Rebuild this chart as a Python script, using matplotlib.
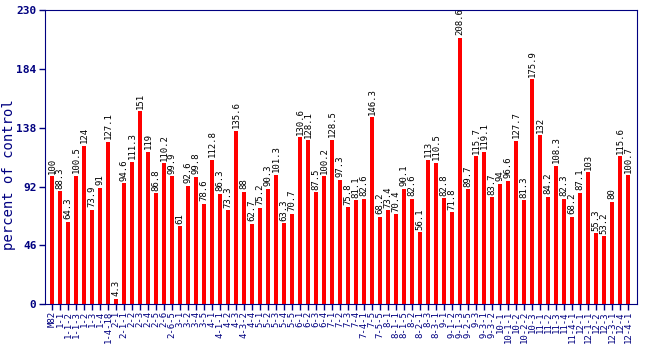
import matplotlib
matplotlib.use("Agg")
import matplotlib.pyplot as plt

lines = ["M82", "1-1", "1-1-2", "1-1-3", "1-2", "1-3", "1-4", "1-4-18",
         "2-1", "2-1-1", "2-2", "2-3", "2-4", "2-5", "2-6", "2-6-5",
         "3-1", "3-2", "3-4", "3-5",
         "4-1", "4-1-1", "4-2", "4-3", "4-3-2", "4-4",
         "5-1", "5-2", "5-3", "5-4", "5-5",
         "6-1", "6-2", "6-3", "6-4",
         "7-1", "7-2", "7-3", "7-4", "7-4-1", "7-5", "7-5-5",
         "8-1", "8-1-1", "8-1-5", "8-2", "8-2-1", "8-3", "8-3-1",
         "9-1", "9-1-2", "9-1-3", "9-2-5", "9-3", "9-3-1", "9-3-2",
         "10-1", "10-1-1", "10-2", "10-2-2", "10-3",
         "11-1", "11-2", "11-3", "11-4", "11-4-1",
         "12-1", "12-1-1", "12-2", "12-3", "12-3-1", "12-4", "12-4-1"]

values = [100, 88.3, 64.3, 100.5, 124, 73.9, 91, 127.1, 4.3, 94.6,
          111.3, 151, 119, 86.8, 110.2, 99.9, 61, 92.6, 99.8, 78.6,
          112.8, 86.3, 73.3, 135.6, 88, 62.7, 75.2, 90.3, 101.3, 63.3,
          70.7, 130.6, 128.1, 87.5, 100.2, 128.5, 97.3, 75.8, 81.1, 82.6,
          146.3, 68.2, 73.4, 70.4, 90.1, 82.6, 56.1, 113, 110.5, 82.8,
          71.8, 208.6, 89.7, 115.7, 119.1, 83.7, 94, 96.6, 127.7, 81.3,
          175.9, 132, 84.2, 108.3, 82.3, 68.2, 87.1, 103, 55.3, 53.2,
          80, 115.6, 100.7]

yticks = [0, 46, 92, 138, 184, 230]

navy = "#000080"
mono = "DejaVu Sans Mono"

fig = plt.figure(figsize=(6.5, 3.5), dpi=100)
ax = fig.add_axes([0.069, 0.131, 0.911, 0.840])

x = list(range(len(values)))
ax.bar(x, values, width=0.5, color="#ff0000")

# value labels above each bar
for xi, v in zip(x, values):
    ax.text(xi, v + 2, f"{v:g}", rotation=90, ha="center", va="bottom",
            fontsize=6.5, family=mono, color="black")

ax.set_xlim(-0.9, len(values) - 1 + 1.1)
ax.set_ylim(0, 230)
ax.set_yticks(yticks)
ax.set_yticklabels([str(t) for t in yticks], family=mono, fontweight="bold",
                   fontsize=8, color=navy)
ax.set_xticks(x)
ax.set_xticklabels(lines, rotation=90, family=mono, fontsize=6.5, color=navy)
ax.tick_params(axis="both", colors=navy, length=4, width=1)
ax.tick_params(axis="x", pad=1)
ax.tick_params(axis="y", pad=2)
for s in ax.spines.values():
    s.set_color(navy)

fig.text(0.014, 0.5, "percent of control", rotation=90, ha="center",
         va="center", family=mono, fontsize=10, color=navy)

fig.savefig("out.png", dpi=100)
